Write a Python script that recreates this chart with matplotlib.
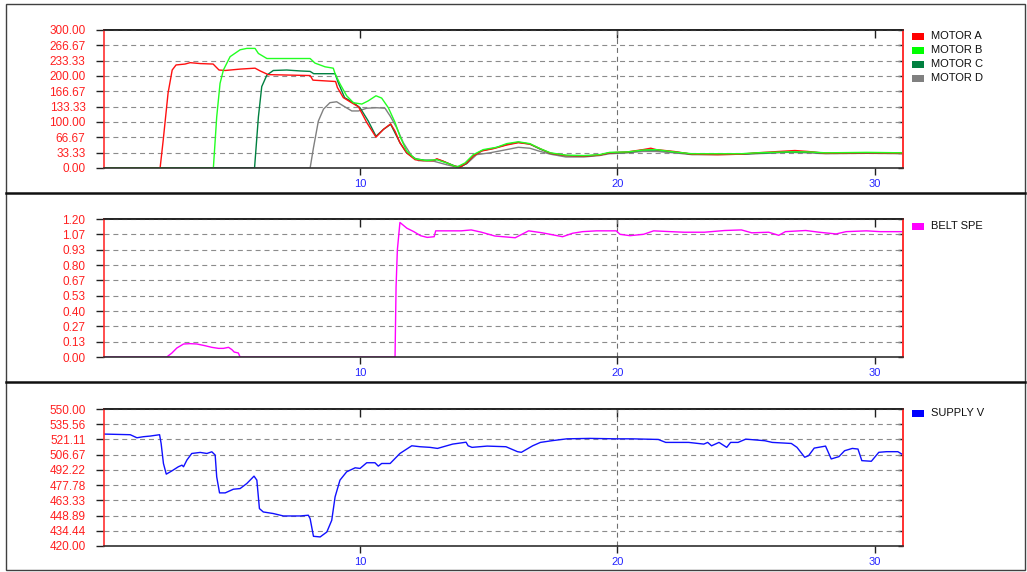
import numpy as np
import matplotlib
matplotlib.use('Agg')
import matplotlib.pyplot as plt
from matplotlib.patches import Rectangle
from matplotlib.lines import Line2D

plt.rcParams['font.family'] = ['Liberation Sans', 'DejaVu Sans']

W, H = 1027, 572

# ---- motor currents (top panel) ----
motor_a_t = [0.05, 2.23, 2.35, 2.54, 2.70, 2.85, 3.20, 3.40, 3.79, 4.29, 4.52, 4.76, 5.34,
             5.92, 6.12, 6.43, 8.06, 8.17, 9.05, 9.12, 9.35, 9.61, 9.94, 10.26, 10.62, 10.91,
             11.19, 11.36, 11.55, 11.81, 12.14, 12.46, 12.85, 12.98, 13.23, 13.62, 13.88,
             14.14, 14.40, 14.73, 15.18, 15.70, 16.15, 16.60, 17.00, 17.40, 18.00, 18.70,
             19.30, 19.70, 20.40, 21.00, 21.30, 21.50, 22.20, 22.90, 23.90, 24.80, 25.40,
             26.60, 26.90, 27.40, 28.10, 29.70, 31.10]
motor_a = [0, 0, 60, 163, 213, 224, 226, 229, 227, 226, 213, 212, 215,
           217, 211, 203, 201, 191, 188, 175, 153, 144, 133, 99, 67, 84,
           96, 80, 55, 33, 18, 16, 16, 20, 15, 5, 1.5,
           11, 26, 37, 42, 50, 55, 52, 42, 32, 27, 26,
           28, 33, 35, 40, 43, 40, 36, 30, 29, 30, 33,
           37, 38, 36, 32, 33, 32]

motor_b_t = [0.05, 4.30, 4.43, 4.56, 4.69, 4.95, 5.34, 5.60, 5.92, 6.05, 6.38, 8.06, 8.25,
             8.64, 8.96, 9.03, 9.22, 9.48, 9.74, 10.07, 10.32, 10.62, 10.84, 11.10, 11.36,
             11.55, 11.81, 12.14, 12.59, 12.98, 13.37, 13.76, 14.08, 14.40, 14.79, 15.31,
             15.70, 16.15, 16.60, 17.00, 17.40, 18.00, 18.70, 19.30, 19.70, 20.40, 21.00,
             21.50, 22.20, 22.90, 23.90, 24.80, 25.40, 26.60, 27.40, 28.10, 29.70, 31.10]
motor_b = [0, 0, 111, 184, 213, 242, 257, 260, 260, 249, 238, 238, 228,
           220, 217, 205, 183, 157, 142, 139, 146, 157, 152, 131, 99,
           69, 37, 20, 16, 18, 11, 2, 11, 29, 40, 45,
           53, 57, 53, 42, 33, 28, 27, 29, 34, 35, 39,
           40, 35, 31, 31, 31, 33, 35, 35, 33, 34, 33]

motor_c_t = [0.05, 5.90, 6.05, 6.18, 6.38, 6.63, 7.15, 7.67, 8.06, 8.20, 9.03, 9.15, 9.40,
             9.74, 10.00, 10.32, 10.62, 10.91, 11.19, 11.55, 11.81, 12.14, 12.50, 12.90,
             13.00, 13.30, 13.70, 13.90, 14.14, 14.40, 14.75, 15.20, 15.70, 16.15, 16.60,
             17.00, 17.40, 18.00, 18.70, 19.30, 19.70, 20.40, 21.00, 21.50, 22.20, 22.90,
             23.90, 24.80, 25.40, 26.60, 27.40, 28.10, 29.70, 31.10]
motor_c = [0, 0, 111, 177, 202, 212, 213, 211, 210, 205, 205, 186, 153,
           142, 131, 102, 69, 84, 95, 55, 33, 20, 17, 17,
           19, 13, 4, 2, 10, 27, 38, 43, 51, 56, 52,
           41, 32, 27, 26, 28, 33, 34, 39, 39, 35, 30,
           30, 30, 32, 35, 35, 32, 33, 32]

motor_d_t = [0.05, 8.06, 8.19, 8.38, 8.58, 8.83, 9.09, 9.35, 9.68, 9.94, 10.26, 10.65, 10.97,
             11.17, 11.42, 11.68, 12.01, 12.27, 12.85, 13.37, 13.76, 14.14, 14.53, 15.05,
             15.70, 16.15, 16.60, 17.00, 17.40, 18.00, 18.70, 19.30, 19.70, 20.40, 21.00,
             21.50, 22.20, 22.90, 23.90, 24.80, 25.40, 26.60, 27.40, 28.10, 29.70, 31.10]
motor_d = [0, 0, 44, 102, 128, 142, 144, 135, 124, 124, 130, 131, 130,
           113, 88, 55, 26, 16, 15, 7, 2, 9, 29, 33,
           40, 45, 43, 36, 30, 24, 24, 27, 31, 33, 36,
           36, 33, 29, 29, 30, 31, 34, 33, 31, 32, 31]

# ---- belt speed (middle panel) ----
belt_t = [0.05, 2.49, 2.69, 2.88, 3.14, 3.40, 3.66, 3.79, 3.98, 4.24, 4.50, 4.69, 4.89,
          5.02, 5.11, 5.27, 5.34, 11.36, 11.40, 11.45, 11.55, 11.82, 12.09, 12.35, 12.61,
          12.88, 12.94, 13.93, 14.32, 14.72, 15.24, 16.03, 16.55, 17.08, 17.87, 18.26,
          18.65, 19.18, 19.96, 20.10, 20.49, 21.02, 21.41, 22.07, 22.59, 23.38, 24.17,
          24.82, 25.22, 25.88, 26.27, 26.53, 27.32, 27.84, 28.50, 28.89, 29.68, 30.21,
          30.86, 31.10]
belt_speed = [0, 0, 0.035, 0.078, 0.113, 0.116, 0.113, 0.107, 0.098, 0.084, 0.075, 0.075, 0.084,
              0.064, 0.043, 0.035, 0, 0, 0.61, 0.93, 1.17, 1.12, 1.09, 1.055, 1.04,
              1.046, 1.097, 1.097, 1.105, 1.085, 1.052, 1.037, 1.097, 1.08, 1.046, 1.076,
              1.09, 1.097, 1.097, 1.067, 1.055, 1.067, 1.097, 1.09, 1.085, 1.085, 1.10,
              1.105, 1.08, 1.085, 1.058, 1.09, 1.10, 1.085, 1.07, 1.09, 1.097, 1.09,
              1.09, 1.09]

# ---- supply voltage (bottom panel) ----
supply_t = [0.06, 1.07, 1.33, 1.58, 1.84, 2.21, 2.27, 2.36, 2.47, 2.69, 2.94, 3.08, 3.14,
            3.27, 3.46, 3.79, 4.05, 4.24, 4.37, 4.43, 4.54, 4.76, 5.08, 5.34, 5.60, 5.88,
            5.99, 6.09, 6.24, 6.63, 7.02, 7.67, 7.99, 8.06, 8.19, 8.45, 8.71, 8.90, 9.03,
            9.22, 9.48, 9.81, 10.00, 10.26, 10.58, 10.71, 10.84, 11.17, 11.55, 12.01, 12.33,
            12.72, 13.01, 13.60, 13.98, 14.12, 14.20, 14.35, 14.94, 15.67, 16.12, 16.27,
            16.71, 17.01, 17.45, 18.04, 18.93, 19.96, 20.56, 21.59, 21.88, 22.77, 23.36,
            23.51, 23.66, 23.95, 24.25, 24.40, 24.69, 24.99, 25.73, 26.02, 26.76, 26.98,
            27.28, 27.43, 27.65, 28.09, 28.17, 28.31, 28.61, 28.83, 29.13, 29.35, 29.50,
            29.87, 30.16, 30.46, 30.90, 31.05]
supply_v = [526.2, 525.6, 522.7, 523.7, 524.3, 525.6, 517.3, 498.3, 488.2, 491.3, 495.2, 496.7, 495.2,
            501.5, 507.8, 508.8, 507.8, 509.4, 506.3, 485.6, 470.4, 470.4, 473.9, 474.5, 479.3, 486.3,
            482.5, 455.5, 452.3, 450.8, 448.5, 448.5, 449.2, 446.0, 429.2, 428.6, 433.3, 444.4, 466.6,
            482.5, 490.4, 494.2, 493.6, 499.0, 499.0, 495.8, 498.3, 498.3, 507.8, 515.1, 514.2,
            513.6, 512.6, 516.7, 518.0, 518.5, 515.1, 513.6, 514.8, 514.2, 509.5, 508.9,
            515.1, 518.3, 519.9, 521.7, 522.1, 521.7, 521.7, 521.1, 518.3, 518.3, 516.7,
            518.3, 515.1, 518.3, 513.6, 518.3, 518.3, 521.4, 519.9, 518.3, 517.3, 513.6,
            504.2, 505.7, 512.9, 514.8, 510.4, 502.6, 504.8, 510.4, 512.6, 512.0, 501.0,
            500.4, 508.9, 509.5, 509.5, 507.3]

x_ticks = [10, 20, 30]


def px_rect(left, top, right, bottom):
    # pixel box -> figure fraction [l, b, w, h]
    return [left / W, 1 - bottom / H, (right - left) / W, (bottom - top) / H]


def make_panel(fig, top, bottom, lo, hi):
    ax = fig.add_axes(px_rect(104, top, 903, bottom))
    ax.set_xlim(0.05, 31.1)
    ax.set_ylim(lo, hi)
    yt = np.linspace(lo, hi, 10)
    ax.set_yticks(yt)
    ax.set_yticklabels([f"{v:.2f}" for v in yt])
    ax.set_xticks(x_ticks)
    ax.set_xticklabels([str(v) for v in x_ticks])
    ax.tick_params(axis='y', direction='out', length=5.8, width=1, color='#202020',
                   labelcolor='#ff2020', labelsize=8.5, pad=7.5)
    ax.tick_params(axis='x', direction='out', length=5, width=1, color='#202020',
                   labelcolor='#2424ff', labelsize=8, pad=3)
    ax.grid(axis='y', linestyle=(0, (4.5, 3.5)), color='#8c8c8c', lw=0.8)
    ax.axvline(20, linestyle=(0, (4.5, 3.5)), color='#707070', lw=0.8, zorder=1.5)
    ax.spines['left'].set_color('#ff3030')
    ax.spines['right'].set_color('#ff3030')
    ax.spines['top'].set_color('#202020')
    ax.spines['bottom'].set_color('#303030')
    for s in ax.spines.values():
        s.set_linewidth(1.2)

    # ticks on top / right point into the plot
    sx = ax.secondary_xaxis('top')
    sx.set_xticks(x_ticks, labels=['', '', ''])
    sx.tick_params(direction='in', length=5.5, width=1, color='#202020')
    sx.spines['top'].set_color('#202020')
    sx.spines['top'].set_linewidth(1.2)
    sy = ax.secondary_yaxis('right')
    sy.set_yticks(yt, labels=[''] * len(yt))
    sy.tick_params(direction='in', length=3.6, width=1, color='#202020')
    sy.spines['right'].set_color('#ff3030')
    sy.spines['right'].set_linewidth(1.2)
    return ax


def legend_item(fig, yc, color, label):
    fig.patches.append(Rectangle((912 / W, 1 - (yc + 3.5) / H), 12 / W, 7 / H,
                                 transform=fig.transFigure, facecolor=color,
                                 edgecolor='none'))
    fig.text(931 / W, 1 - yc / H, label, fontsize=8, color='#101010',
             va='center', ha='left')


fig = plt.figure(figsize=(W / 100, H / 100), dpi=100)
fig.patch.set_facecolor('white')

ax1 = make_panel(fig, 30, 168, 0, 300)
ax1.plot(motor_d_t, motor_d, color='#808080', lw=1.0)
ax1.plot(motor_c_t, motor_c, color='#008040', lw=1.0)
ax1.plot(motor_a_t, motor_a, color='#ff1010', lw=1.0)
ax1.plot(motor_b_t, motor_b, color='#22ff22', lw=1.0)

ax2 = make_panel(fig, 219, 357, 0, 1.2)
ax2.plot(belt_t, belt_speed, color='#ff00ff', lw=1.0)

ax3 = make_panel(fig, 409, 546, 420, 550)
ax3.plot(supply_t, supply_v, color='#1010ff', lw=1.0)

legend_item(fig, 36, '#ff0000', 'MOTOR A')
legend_item(fig, 50, '#00ff00', 'MOTOR B')
legend_item(fig, 64, '#008040', 'MOTOR C')
legend_item(fig, 78, '#808080', 'MOTOR D')
legend_item(fig, 226, '#ff00ff', 'BELT SPE')
legend_item(fig, 413, '#0000ff', 'SUPPLY V')

# panel frames
fig.patches.append(Rectangle((6 / W, 1 - 570 / H), 1019 / W, 566 / H,
                             transform=fig.transFigure, fill=False,
                             edgecolor='#404040', lw=1))
for yy in (193, 382):
    fig.lines.append(Line2D([6 / W, 1025 / W], [1 - yy / H, 1 - yy / H],
                            transform=fig.transFigure, color='#101010', lw=1.8))

fig.savefig('out.png', dpi=100)
